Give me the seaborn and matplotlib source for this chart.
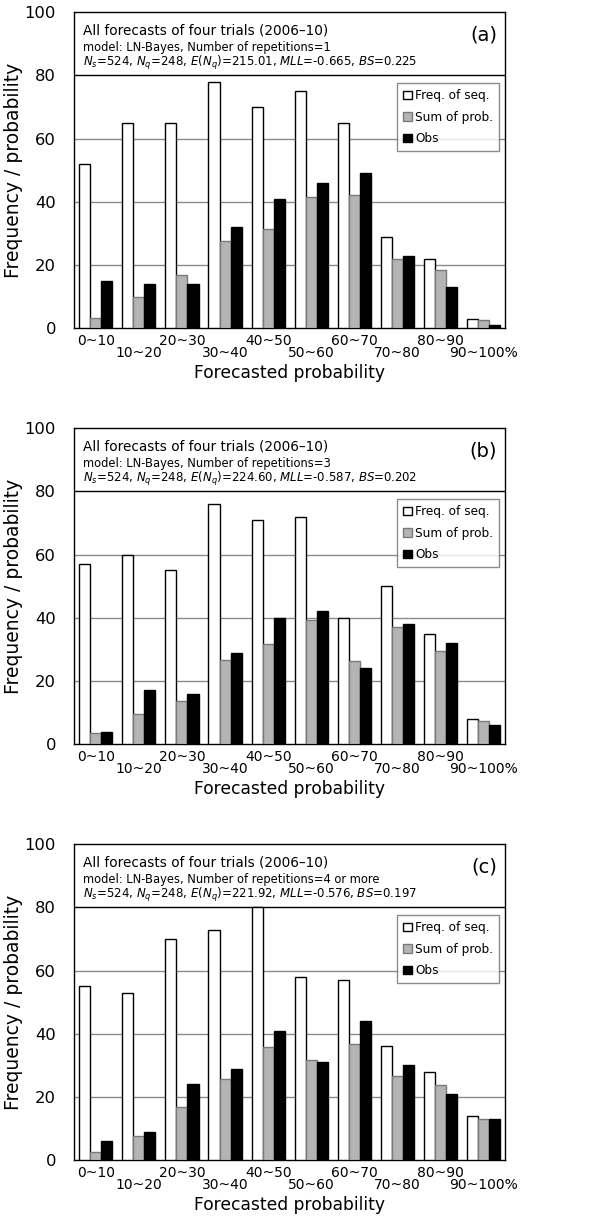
import numpy as np
import pandas as pd
import matplotlib
matplotlib.use('Agg')
import matplotlib.pyplot as plt
import seaborn as sns
from matplotlib.patches import Patch

bins = ['0~10', '10~20', '20~30', '30~40', '40~50', '50~60', '60~70', '70~80', '80~90', '90~100%']
series_names = ['Freq. of seq.', 'Sum of prob.', 'Obs']

# panel (a): repetitions = 1
freq_a = [52, 65, 65, 78, 70, 75, 65, 29, 22, 3]
sum_a = [3.2, 9.8, 16.7, 27.5, 31.4, 41.4, 42.1, 21.8, 18.5, 2.7]
obs_a = [15, 14, 14, 32, 41, 46, 49, 23, 13, 1]

# panel (b): repetitions = 3
freq_b = [57, 60, 55, 76, 71, 72, 40, 50, 35, 8]
sum_b = [3.4, 9.5, 13.8, 26.6, 31.6, 39.4, 26.2, 37.2, 29.6, 7.5]
obs_b = [4, 17, 16, 29, 40, 42, 24, 38, 32, 6]

# panel (c): repetitions = 4 or more
freq_c = [55, 53, 70, 73, 80, 58, 57, 36, 28, 14]
sum_c = [2.6, 7.6, 17.0, 25.7, 35.7, 31.8, 36.7, 26.8, 23.7, 12.9]
obs_c = [6, 9, 24, 29, 41, 31, 44, 30, 21, 13]

panel_tags = ['(a)', '(b)', '(c)']
reps = ['1', '3', '4 or more']
stats = [('215.01', '-0.665', '0.225'),
         ('224.60', '-0.587', '0.202'),
         ('221.92', '-0.576', '0.197')]

face = ['white', '#b4b4b4', 'black']
edge = ['black', '#7a7a7a', 'black']

sns.set_style('white')
plt.rcParams['font.family'] = ['DejaVu Sans']
for key in ['text.color', 'axes.labelcolor', 'xtick.color', 'ytick.color']:
    plt.rcParams[key] = 'black'

fig = plt.figure(figsize=(6.03, 12.2), dpi=100)
boxes = [[0.123, 0.731, 0.715, 0.259],
         [0.123, 0.390, 0.715, 0.259],
         [0.123, 0.049, 0.715, 0.259]]

all_data = [(freq_a, sum_a, obs_a), (freq_b, sum_b, obs_b), (freq_c, sum_c, obs_c)]

for k, (fr, sm, ob) in enumerate(all_data):
    ax = fig.add_axes(boxes[k])
    df = pd.DataFrame({
        'bin': bins * 3,
        'series': [series_names[0]] * 10 + [series_names[1]] * 10 + [series_names[2]] * 10,
        'value': fr + sm + ob,
    })
    sns.barplot(data=df, x='bin', y='value', hue='series', hue_order=series_names,
                palette=face, width=0.77, linewidth=1, legend=False, ax=ax, zorder=3)
    for cont, ec in zip(ax.containers, edge):
        for p in cont:
            p.set_edgecolor(ec)
            p.set_linewidth(1)

    ax.set_ylim(0, 100)
    ax.set_xlim(-0.5, 9.5)
    ax.set_yticks([0, 20, 40, 60, 80, 100])
    for yv in [20, 40, 60]:
        ax.axhline(yv, color='#8a8a8a', lw=1, zorder=1)
    ax.axhline(80, color='black', lw=1, zorder=1)
    for s in ax.spines.values():
        s.set_visible(True)
        s.set_color('black')
        s.set_linewidth(1)

    ax.tick_params(axis='y', length=0, pad=13, labelsize=11.8)
    ax.tick_params(axis='x', length=0, labelsize=10)
    ax.set_xticks(range(10))
    ax.set_xticklabels(bins)
    for i, t in enumerate(ax.xaxis.get_major_ticks()):
        t.set_pad(4 if i % 2 == 0 else 13)

    ax.set_xlabel('Forecasted probability', fontsize=12.3, labelpad=3)
    ax.set_ylabel('Frequency / probability', fontsize=13.5, labelpad=1)

    en, mll, bs = stats[k]
    ax.text(0.021, 0.943, 'All forecasts of four trials (2006\u201310)',
            transform=ax.transAxes, fontsize=9.8, va='center', ha='left')
    ax.text(0.021, 0.889, 'model: LN-Bayes, Number of repetitions=' + reps[k],
            transform=ax.transAxes, fontsize=8.3, va='center', ha='left')
    ax.text(0.021, 0.839,
            '$N_s$=524, $N_q$=248, $E$($N_q$)=' + en + ', $MLL$=' + mll + ', $BS$=' + bs,
            transform=ax.transAxes, fontsize=8.5, va='center', ha='left')
    ax.text(0.981, 0.927, panel_tags[k], transform=ax.transAxes, fontsize=14,
            va='center', ha='right')

    handles = [Patch(facecolor=f, edgecolor=e, linewidth=1) for f, e in zip(face, edge)]
    leg = ax.legend(handles, series_names, loc='upper right', bbox_to_anchor=(0.986, 0.775),
                    fontsize=8.7, frameon=True, fancybox=False, handlelength=0.7,
                    handleheight=0.7, handletextpad=0.3, labelspacing=0.7,
                    borderpad=0.5, borderaxespad=0)
    leg.get_frame().set_edgecolor('#707070')
    leg.get_frame().set_linewidth(1)

fig.savefig('out.png', dpi=100)
